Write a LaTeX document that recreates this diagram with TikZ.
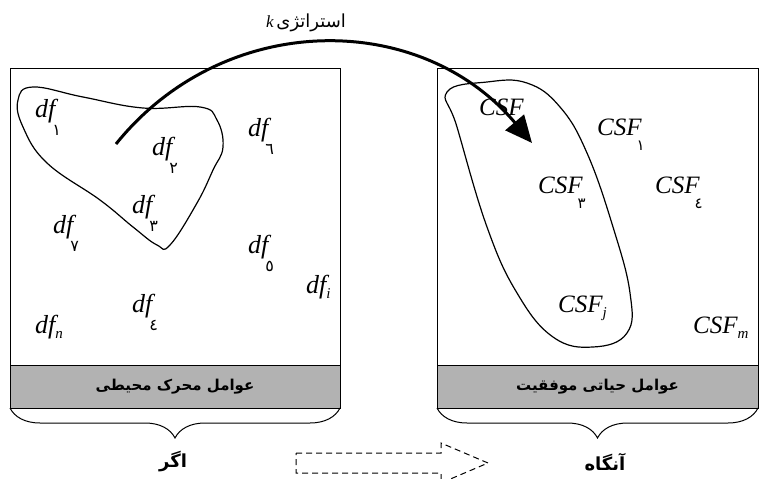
\documentclass[tikz,border=0pt]{standalone}
\usepackage{fontspec}
\setmainfont{Liberation Serif}
\newfontfamily\arabicfont[Script=Arabic]{DejaVu Sans}
\TeXXeTstate=1
\usetikzlibrary{arrows.meta,decorations.pathreplacing}

\newcommand{\dsub}[1]{\hspace{-3pt}\raisebox{-18pt}{\upshape\arabicfont\fontsize{16}{16}\selectfont #1}}
\newcommand{\csub}[1]{\hspace{-5pt}\raisebox{-15pt}{\upshape\arabicfont\fontsize{15}{15}\selectfont #1}}
\newcommand{\lsub}[1]{\raisebox{-5pt}{\fontsize{15}{15}\selectfont\itshape #1}}

\begin{document}
\begin{tikzpicture}[x=1pt, y=-1pt,
    panel/.style={draw, line width=1pt, fill=white, inner sep=0pt, outer sep=0pt},
    band/.style={draw, line width=1pt, fill=black!30, inner sep=0pt, outer sep=0pt,
      font=\arabicfont\bfseries\fontsize{15}{17}\selectfont},
    factor/.style={anchor=base west, inner sep=0pt, font=\itshape\fontsize{26}{26}\selectfont},
    success/.style={anchor=base west, inner sep=0pt, font=\itshape\fontsize{25}{25}\selectfont},
    group/.style={line width=1.2pt},
    curly/.style={decorate, decoration={brace, mirror, amplitude=30pt}, line width=1pt},
    cond/.style={font=\arabicfont\bfseries\fontsize{18}{20}\selectfont}]
   \useasboundingbox (0,0) rectangle (760,479);
   % the two panels
   \node[panel, minimum width=330pt, minimum height=297pt] (L) at (175,216.5) {};
   \node[band, minimum width=330pt, minimum height=43pt, anchor=north] (Lb) at (L.south)
      {\beginR عوامل محرک محیطی\endR};
   \node[panel, minimum width=321pt, minimum height=297pt] (R) at (597.5,216.5) {};
   \node[band, minimum width=321pt, minimum height=43pt, anchor=north] (Rb) at (R.south)
      {\beginR عوامل حیاتی موفقیت\endR};
   % groups
   \draw[group] plot[smooth cycle, tension=0.7] coordinates {(18,100) (33,87) (83,97) (143,108)
      (200,107) (217,120) (223,147) (213,170) (197,203) (170,245) (157,245) (133,227)
      (100,200) (47,163) (23,127)};
   \draw[group] plot[smooth cycle, tension=0.7] coordinates {(447,92) (487,82) (527,83)
      (560,107) (587,153) (613,227) (630,293) (627,333) (593,347) (553,337) (517,293)
      (487,227) (457,127)};
   % drivers
   \node[factor] (df1) at (35,117) {df\dsub{١}};
   \node[factor] (df2) at (152,155) {df\dsub{٢}};
   \node[factor] (df6) at (248,136) {df\dsub{٦}};
   \node[factor] (df3) at (132,213) {df\dsub{٣}};
   \node[factor] (df7) at (53,233) {df\dsub{٧}};
   \node[factor] (df5) at (248,253) {df\dsub{٥}};
   \node[factor] (dfi) at (306,293) {df\lsub{i}};
   \node[factor] (df4) at (132,312) {df\dsub{٤}};
   \node[factor] (dfn) at (35,333) {df\lsub{n}};
   % success factors
   \node[success] (csf2) at (479,115) {CSF\csub{٢}};
   \node[success] (csf1) at (597,135) {CSF\csub{١}};
   \node[success] (csf3) at (538,193) {CSF\csub{٣}};
   \node[success] (csf4) at (655,193) {CSF\csub{٤}};
   \node[success] (csfj) at (558,312) {CSF\lsub{j}};
   \node[success] (csfm) at (693,333) {CSF\lsub{m}};
   % strategy
   \coordinate (s) at (116,144);
   \coordinate (t) at (532,143);
   \draw[line width=3pt, -{Triangle[length=27pt,width=24pt]}] (s) .. controls (224,10) and (420,10) .. (t);
   \node (strat) at (306,23) {{\itshape\fontsize{17}{17}\selectfont k}\;{\arabicfont\fontsize{18}{20}\selectfont\beginR استراتژی\endR}};
   % braces
   \draw[curly] (Lb.south west) -- (Lb.south east);
   \draw[curly] (Rb.south west) -- (Rb.south east);
   \node[cond] (if) at (173,462) {\beginR اگر\endR};
   \node[cond] (then) at (605,462) {\beginR آنگاه\endR};
   % dashed arrow
   \draw[line width=1pt, dash pattern=on 6pt off 4pt] (296,453) -- (441,453) -- (441,443) -- (488,463)
      -- (441,483) -- (441,473) -- (296,473) -- cycle;
\end{tikzpicture}
\end{document}
